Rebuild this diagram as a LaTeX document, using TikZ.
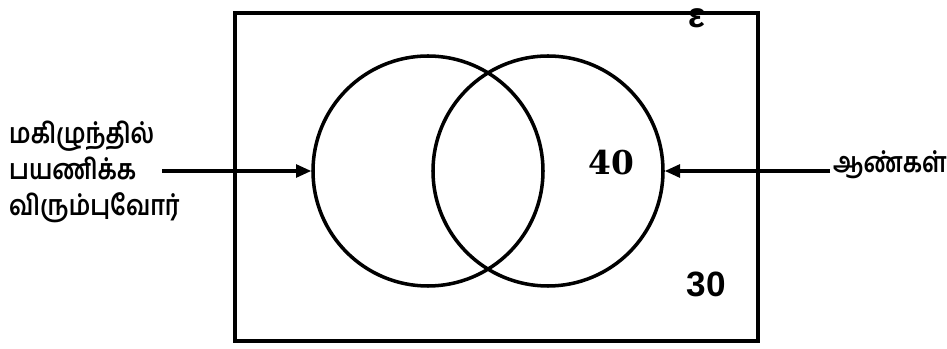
\documentclass[tikz,border=0pt]{standalone}
\usepackage{fontspec}
\newfontfamily\tamilfont[Script=Tamil, FakeStretch=0.84]{Hind Madurai}
\newfontfamily\sansdigits{Liberation Sans}
\newfontfamily\serifdigits{DejaVu Serif}
\usetikzlibrary{arrows.meta,positioning}

\tikzset{
  venn/.style={circle, draw, line width=3pt, minimum size=6.9cm, inner sep=0pt},
  pointer/.style={line width=2.6pt, -{Triangle[length=13pt,width=11pt]}},
  tamiltext/.style={font=\tamilfont\bfseries\fontsize{24}{31}\selectfont, inner sep=0pt},
  count/.style={font=\serifdigits\bfseries\fontsize{28}{34}\selectfont, inner sep=0pt}
}

\begin{document}
\begin{tikzpicture}[x=0.03cm, y=-0.03cm]
  \useasboundingbox (0,0) rectangle (947,349);

  % universal set
  \draw[line width=3pt] (235,13) rectangle (758,341);
  \node[font=\sansdigits\bfseries\fontsize{30}{32}\selectfont, inner sep=0pt] (univ) at (697,18) {ε};

  % the two sets
  \node[venn] (car) at (428,171) {};
  \node[venn] (men) at (548,171) {};

  % regions
  \node[count] (inmen) at (611,163) {40};
  \node[count, font=\sansdigits\bfseries\fontsize{30}{36}\selectfont] (outside) at (706,284) {30};

  % labels
  \node[tamiltext, anchor=west, align=left] (carlbl) at (9,172) {மகிழுந்தில்\\பயணிக்க\\விரும்புவோர்};
  \node[tamiltext, anchor=west] (menlbl) at (833,165) {ஆண்கள்};

  \coordinate (carstart) at (162,171);
  \coordinate (menstart) at (830,171);
  \draw[pointer] (carstart) -- (car.west);
  \draw[pointer] (menstart) -- (men.east);
\end{tikzpicture}
\end{document}
